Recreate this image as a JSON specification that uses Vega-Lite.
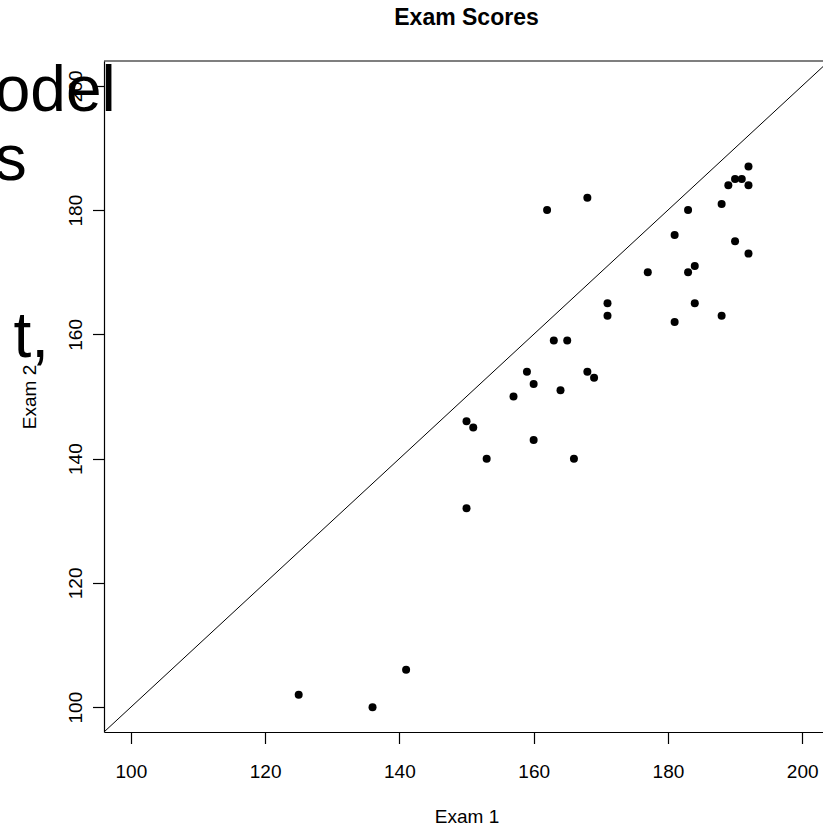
{
  "$schema": "https://vega.github.io/schema/vega-lite/v6.json",
  "autosize": "none",
  "width": 719,
  "height": 671,
  "padding": {"left": 104, "top": 61, "right": 0, "bottom": 93},
  "background": "white",
  "config": {"view": {"stroke": null}, "font": "Liberation Sans"},
  "title": {"text": "Exam Scores", "fontSize": 23, "fontWeight": "bold", "font": "Liberation Sans", "color": "black", "anchor": "middle", "dx": 3, "offset": 12, "baseline": "alphabetic", "frame": "group"},
  "datasets": {
    "scores": [
      {"exam1": 125, "exam2": 102}, {"exam1": 136, "exam2": 100}, {"exam1": 141, "exam2": 106},
      {"exam1": 150, "exam2": 132}, {"exam1": 150, "exam2": 146}, {"exam1": 151, "exam2": 145},
      {"exam1": 153, "exam2": 140}, {"exam1": 157, "exam2": 150}, {"exam1": 159, "exam2": 154},
      {"exam1": 160, "exam2": 152}, {"exam1": 160, "exam2": 143}, {"exam1": 162, "exam2": 180},
      {"exam1": 163, "exam2": 159}, {"exam1": 164, "exam2": 151}, {"exam1": 165, "exam2": 159},
      {"exam1": 166, "exam2": 140}, {"exam1": 168, "exam2": 182}, {"exam1": 168, "exam2": 154},
      {"exam1": 169, "exam2": 153}, {"exam1": 171, "exam2": 165}, {"exam1": 171, "exam2": 163},
      {"exam1": 177, "exam2": 170}, {"exam1": 181, "exam2": 176}, {"exam1": 181, "exam2": 162},
      {"exam1": 183, "exam2": 180}, {"exam1": 183, "exam2": 170}, {"exam1": 184, "exam2": 171},
      {"exam1": 184, "exam2": 165}, {"exam1": 188, "exam2": 181}, {"exam1": 188, "exam2": 163},
      {"exam1": 189, "exam2": 184}, {"exam1": 190, "exam2": 185}, {"exam1": 190, "exam2": 175},
      {"exam1": 191, "exam2": 185}, {"exam1": 192, "exam2": 187}, {"exam1": 192, "exam2": 184},
      {"exam1": 192, "exam2": 173}
    ],
    "diag": [{"from": 96, "to": 204}],
    "frame": [{"top": 204}]
  },
  "layer": [
    {
      "data": {"name": "scores"},
      "mark": {"type": "circle", "color": "black", "opacity": 1, "size": 64},
      "encoding": {
        "x": {
          "field": "exam1", "type": "quantitative",
          "scale": {"domain": [96, 203.1], "nice": false, "zero": false},
          "axis": {
            "values": [100, 120, 140, 160, 180, 200], "grid": false,
            "domain": true, "domainColor": "black", "domainWidth": 1.2,
            "ticks": true, "tickColor": "black", "tickSize": 11.5, "tickWidth": 1.2,
            "labelFont": "Liberation Sans", "labelFontSize": 19, "labelColor": "black",
            "labelBaseline": "alphabetic", "labelPadding": 33.5, "labelFlush": false, "labelOverlap": false,
            "title": "Exam 1", "titleFont": "Liberation Sans", "titleFontSize": 19, "titleFontWeight": "normal",
            "titleColor": "black", "titleX": 362.5, "titleY": 90, "titleBaseline": "alphabetic", "titleAlign": "center"
          }
        },
        "y": {
          "field": "exam2", "type": "quantitative",
          "scale": {"domain": [96, 204], "nice": false, "zero": false},
          "axis": {
            "values": [100, 120, 140, 160, 180, 200], "grid": false,
            "domain": true, "domainColor": "black", "domainWidth": 1.2,
            "ticks": true, "tickColor": "black", "tickSize": 11.5, "tickWidth": 1.2,
            "labelFont": "Liberation Sans", "labelFontSize": 19, "labelColor": "black",
            "labelAngle": -90, "labelAlign": "center", "labelBaseline": "alphabetic", "labelPadding": 11.5,
            "labelFlush": false, "labelOverlap": false,
            "title": "Exam 2", "titleFont": "Liberation Sans", "titleFontSize": 19, "titleFontWeight": "normal",
            "titleColor": "black", "titleAngle": -90, "titleX": -69, "titleY": 335.5, "titleBaseline": "alphabetic", "titleAlign": "center"
          }
        }
      }
    },
    {
      "data": {"name": "frame"},
      "mark": {"type": "rule", "color": "black", "strokeWidth": 1.2},
      "encoding": {
        "y": {"field": "top", "type": "quantitative", "scale": {"domain": [96, 204], "nice": false, "zero": false}}
      }
    },
    {
      "data": {"name": "diag"},
      "mark": {"type": "rule", "color": "black", "strokeWidth": 1, "clip": true},
      "encoding": {
        "x": {"field": "from", "type": "quantitative", "scale": {"domain": [96, 203.1], "nice": false, "zero": false}},
        "y": {"field": "from", "type": "quantitative", "scale": {"domain": [96, 204], "nice": false, "zero": false}},
        "x2": {"field": "to"},
        "y2": {"field": "to"}
      }
    },
    {
      "data": {"values": [{"label": "odel"}]},
      "mark": {"type": "text", "font": "Liberation Sans", "fontSize": 64, "color": "black", "align": "right", "baseline": "alphabetic", "clip": false},
      "encoding": {
        "x": {"datum": 97.75, "type": "quantitative", "scale": {"domain": [96, 203.1], "nice": false, "zero": false}},
        "y": {"datum": 196.0, "type": "quantitative", "scale": {"domain": [96, 204], "nice": false, "zero": false}},
        "text": {"field": "label"}
      }
    },
    {
      "data": {"values": [{"label": "s"}]},
      "mark": {"type": "text", "font": "Liberation Sans", "fontSize": 64, "color": "black", "align": "right", "baseline": "alphabetic", "clip": false},
      "encoding": {
        "x": {"datum": 84.5, "type": "quantitative", "scale": {"domain": [96, 203.1], "nice": false, "zero": false}},
        "y": {"datum": 184.85, "type": "quantitative", "scale": {"domain": [96, 204], "nice": false, "zero": false}},
        "text": {"field": "label"}
      }
    },
    {
      "data": {"values": [{"label": "t,"}]},
      "mark": {"type": "text", "font": "Liberation Sans", "fontSize": 64, "color": "black", "align": "right", "baseline": "alphabetic", "clip": false},
      "encoding": {
        "x": {"datum": 87.8, "type": "quantitative", "scale": {"domain": [96, 203.1], "nice": false, "zero": false}},
        "y": {"datum": 156.4, "type": "quantitative", "scale": {"domain": [96, 204], "nice": false, "zero": false}},
        "text": {"field": "label"}
      }
    }
  ]
}
